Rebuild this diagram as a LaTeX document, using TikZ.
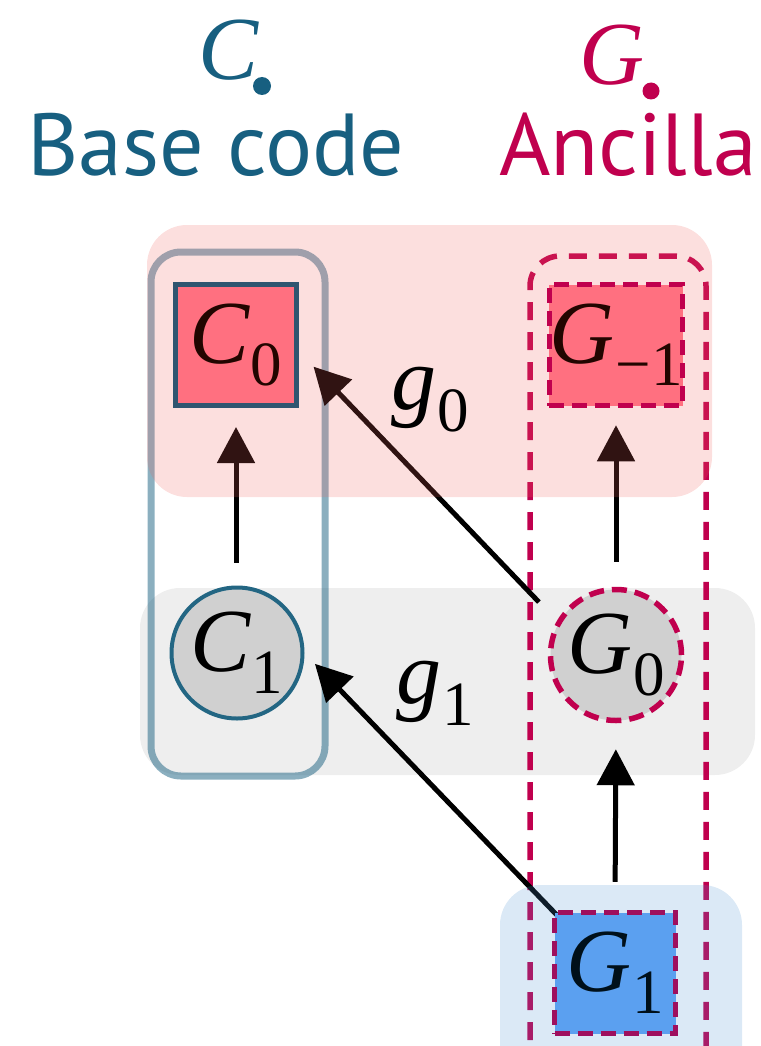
\documentclass[tikz,border=0pt]{standalone}
\usepackage{fontspec}
\newfontfamily\tnr{Liberation Serif}
\newfontfamily\labfont{PT Sans}
\usetikzlibrary{arrows.meta,calc}
\pgfdeclarelayer{background}
\pgfsetlayers{background,main}
\definecolor{baseblue}{HTML}{175F80}
\definecolor{anc}{HTML}{C0004E}
\definecolor{pinkbg}{HTML}{F0605A}
\definecolor{bluebg}{HTML}{4A90D0}
\definecolor{graybg}{HTML}{EEEEEE}
\definecolor{redfill}{HTML}{FF7080}
\definecolor{c0edge}{HTML}{2F5570}
\definecolor{c1edge}{HTML}{236683}
\definecolor{nodegray}{HTML}{D0D0D0}
\definecolor{g1fill}{HTML}{5BA0F0}
\definecolor{g1edge}{HTML}{9E0F5E}
\definecolor{darktxt}{HTML}{220500}
\definecolor{bluetxt}{HTML}{00101A}
\newcommand\lab[2]{{\fontsize{90}{90}\selectfont\tnr\itshape #1}\kern1pt\raisebox{-22pt}{\fontsize{63}{63}\selectfont\tnr #2}}
\tikzset{
  sqbox/.style={rectangle, minimum size=121pt, inner sep=0pt, line width=5.5pt, draw},
  circbox/.style={circle, minimum size=131pt, inner sep=0pt, line width=4pt, draw},
  dashedge/.style={dash pattern=on 15pt off 8pt},
  arr/.style={line width=5pt, black, -{Triangle[length=36pt,width=37pt]}},
  biglabel/.style={anchor=base, inner sep=0pt},
}
\begin{document}
\begin{tikzpicture}[x=1pt,y=-1pt]
\useasboundingbox (0,0) rectangle (760,1046);
\clip (0,0) rectangle (760,1046);

% nodes
\node[sqbox, fill=redfill, draw=c0edge, line width=5pt, text=darktxt] (c0) at (236,345) {\lab{C}{0}};
\node[circbox, fill=nodegray, draw=c1edge, text=black] (c1) at (237,653) {\lab{C}{1}};
\node[sqbox, fill=redfill, draw=anc, dashedge, text=darktxt] (gm1) at (616,345) {\lab{G}{−1}};
\node[circbox, fill=nodegray, draw=anc, dashedge, line width=5.5pt, text=black] (g0) at (616,655) {\lab{G}{0}};
\node[sqbox, fill=g1fill, draw=g1edge, dashedge, text=bluetxt] (g1) at (615,973) {\lab{G}{1}};

\node[text=black] (lg0) at (430,400) {\lab{g}{0}};
\node[text=black] (lg1) at (435,693) {\lab{g}{1}};

\node[biglabel, text=baseblue] (ctop) at (229,80) {\fontsize{90}{90}\selectfont\tnr\itshape C};
\fill[baseblue] (262,86) circle (9pt);
\node[biglabel, text=anc] (gtop) at (612,85) {\fontsize{90}{90}\selectfont\tnr\itshape G};
\fill[anc] (651,91) circle (8.5pt);
\node[biglabel, text=baseblue] (bc) at (216,175) {\fontsize{88}{88}\selectfont\labfont Base code};
\node[biglabel, text=anc] (an) at (628,175) {\fontsize{88}{88}\selectfont\labfont Ancilla};

\begin{pgfonlayer}{background}
\fill[graybg, rounded corners=40pt] (140,588) rectangle (755,775);
\draw[baseblue, opacity=0.5, line width=7pt, rounded corners=30pt] (151,252) rectangle (325,776);
\draw[anc, line width=5.5pt, dash pattern=on 18pt off 12pt, rounded corners=30pt] (530,1100) -- (530,256) -- (706,256) -- (706,1100);

\draw[arr, shorten <=23pt, shorten >=19pt] (c1.north -| c0.south) -- (c0.south);
\draw[arr, shorten <=25pt, shorten >=17pt] (g0.north) -- (gm1.south);
\draw[arr, shorten <=28pt, shorten >=26pt] (g1.north) -- (g0.south);
\draw[arr, shorten <=26pt, shorten >=21pt] (g0.150) -- ([yshift=-6.5pt]c0.east);
\draw[arr, shorten <=-12pt, shorten >=15pt] (g1.north west) -- (c1.east);

\fill[pinkbg, opacity=0.2, rounded corners=40pt] (147,225) rectangle (712,497);
\fill[bluebg, opacity=0.2, rounded corners=40pt] (500,885) rectangle (742,1100);
\end{pgfonlayer}
\end{tikzpicture}
\end{document}
